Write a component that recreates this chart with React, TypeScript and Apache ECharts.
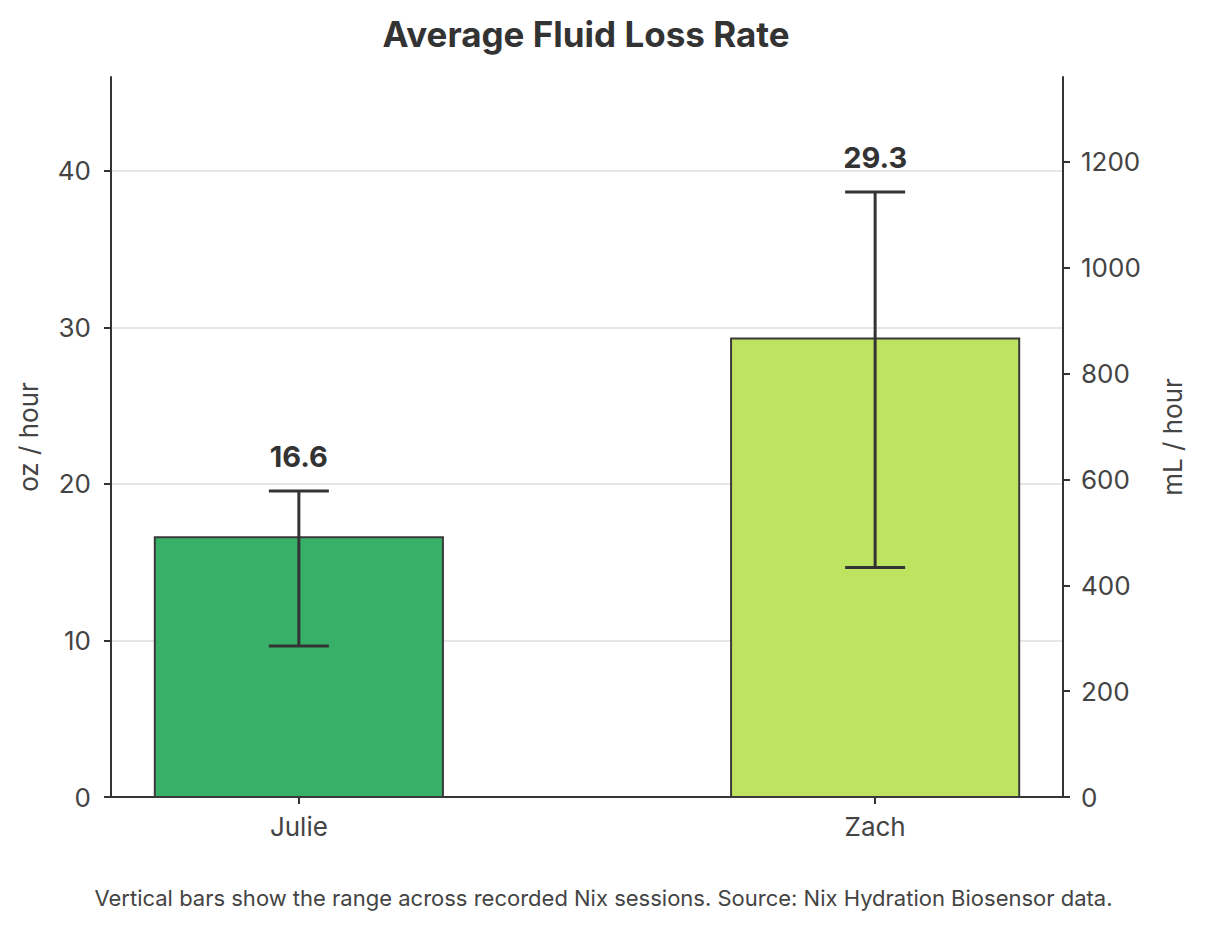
import React, { useEffect, useRef } from "react";
import * as echarts from "echarts";

const categories = ["Julie", "Zach"];
const means = [16.6, 29.3];
const lows = [9.64, 14.66];
const highs = [19.55, 38.65];
const barColors = ["#38b068", "#bee360"];
const ozTicks = [0, 10, 20, 30, 40];
const mlTicks = [0, 200, 400, 600, 800, 1000, 1200];
const OZ_MAX = 46;
const ML_PER_OZ = 29.5735;
const TITLE = "Average Fluid Loss Rate";
const FOOTNOTE =
  "Vertical bars show the range across recorded Nix sessions. Source: Nix Hydration Biosensor data.";

const FONT = "Inter, 'Noto Sans', sans-serif";
const AX = "#333333";
const TXT = "#444444";

export default function App() {
  const ref = useRef<HTMLDivElement>(null);
  useEffect(() => {
    document.body.style.margin = "0";
    const chart = echarts.init(ref.current!, null, { renderer: "svg" });
    const data = categories.map((c, i) => [i, means[i], lows[i], highs[i]]);
    chart.setOption({
      animation: false,
      backgroundColor: "#ffffff",
      textStyle: { fontFamily: FONT },
      title: {
        text: TITLE,
        left: 581,
        textAlign: "center",
        top: 11,
        textStyle: { fontFamily: FONT, fontSize: 35, fontWeight: "bold", color: "#333333" },
      },
      graphic: [
        {
          type: "text",
          left: "center",
          top: 887,
          style: { text: FOOTNOTE, font: `22px ${FONT}`, fill: TXT },
        },
      ],
      grid: { left: 111, right: 144, top: 77, bottom: 136, containLabel: false },
      xAxis: {
        type: "value",
        min: -0.326,
        max: 1.326,
        axisLine: { show: true, onZero: false, lineStyle: { color: AX, width: 2 } },
        axisTick: { show: true, customValues: [0, 1], length: 7, lineStyle: { color: AX, width: 2 } },
        axisLabel: {
          customValues: [0, 1],
          formatter: (v: number) => categories[Math.round(v)] ?? "",
          fontSize: 26,
          color: TXT,
          margin: 16,
          fontFamily: FONT,
        },
        splitLine: { show: false },
      },
      yAxis: [
        {
          type: "value",
          min: 0,
          max: OZ_MAX,
          interval: 10,
          position: "left",
          name: "oz / hour",
          nameLocation: "middle",
          nameGap: 70,
          nameTextStyle: { fontSize: 26, color: TXT, fontFamily: FONT },
          axisLine: { show: true, onZero: false, lineStyle: { color: AX, width: 2 } },
          axisTick: { show: true, customValues: ozTicks, length: 7, lineStyle: { color: AX, width: 2 } },
          axisLabel: {
            customValues: ozTicks,
            formatter: (v: number) => String(v),
            fontSize: 26,
            color: TXT,
            margin: 20,
            fontFamily: FONT,
          },
          splitLine: {
            show: true,
            lineStyle: {
              color: ["transparent", "#e6e6e6", "#e6e6e6", "#e6e6e6", "#e6e6e6", "transparent"],
              width: 2,
            },
          },
        },
        {
          type: "value",
          min: 0,
          max: OZ_MAX * ML_PER_OZ,
          interval: 200,
          position: "right",
          name: "mL / hour",
          nameLocation: "middle",
          nameGap: 96,
          nameRotate: 90,
          nameTextStyle: { fontSize: 26, color: TXT, fontFamily: FONT },
          axisLine: { show: true, onZero: false, lineStyle: { color: AX, width: 2 } },
          axisTick: { show: true, customValues: mlTicks, length: 7, lineStyle: { color: AX, width: 2 } },
          axisLabel: {
            customValues: mlTicks,
            formatter: (v: number) => String(Math.round(v)),
            fontSize: 26,
            color: TXT,
            margin: 18,
            fontFamily: FONT,
          },
          splitLine: { show: false },
        },
      ],
      series: [
        {
          type: "custom",
          yAxisIndex: 0,
          data,
          encode: { x: 0, y: 1 },
          renderItem: (params: any, api: any) => {
            const x = api.value(0);
            const m = api.value(1);
            const lo = api.value(2);
            const hi = api.value(3);
            const tl = api.coord([x - 0.25, m]);
            const br = api.coord([x + 0.25, 0]);
            const pLo = api.coord([x, lo]);
            const pHi = api.coord([x, hi]);
            const cap = 30;
            return {
              type: "group",
              children: [
                {
                  type: "rect",
                  shape: { x: tl[0], y: tl[1], width: br[0] - tl[0], height: br[1] - tl[1] },
                  style: { fill: barColors[params.dataIndex], stroke: "#3a3a3a", lineWidth: 2 },
                },
                {
                  type: "line",
                  shape: { x1: pLo[0], y1: pLo[1], x2: pHi[0], y2: pHi[1] },
                  style: { stroke: "#333333", lineWidth: 3 },
                },
                {
                  type: "line",
                  shape: { x1: pHi[0] - cap, y1: pHi[1], x2: pHi[0] + cap, y2: pHi[1] },
                  style: { stroke: "#333333", lineWidth: 3 },
                },
                {
                  type: "line",
                  shape: { x1: pLo[0] - cap, y1: pLo[1], x2: pLo[0] + cap, y2: pLo[1] },
                  style: { stroke: "#333333", lineWidth: 3 },
                },
                {
                  type: "text",
                  x: pHi[0],
                  y: pHi[1] - 35,
                  style: {
                    text: m.toFixed(1),
                    font: `bold 29px ${FONT}`,
                    fill: "#333333",
                    align: "center",
                    verticalAlign: "middle",
                  },
                },
              ],
            };
          },
        },
      ],
    });
    return () => chart.dispose();
  }, []);
  return <div ref={ref} style={{ width: 1207, height: 933 }} />;
}
